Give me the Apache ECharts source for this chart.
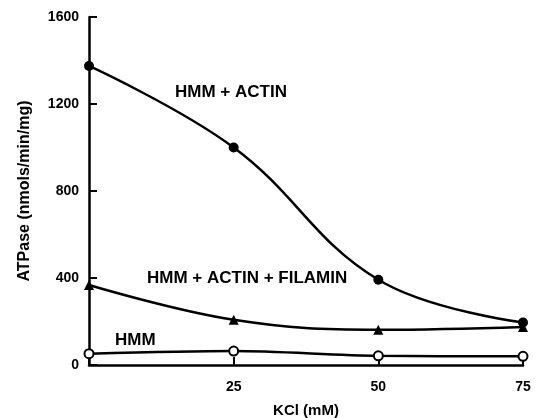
<!DOCTYPE html>
<html><head><meta charset="utf-8">
<script src="https://cdn.jsdelivr.net/npm/echarts@6/dist/echarts.min.js"></script>
<style>html,body{margin:0;padding:0;background:#fff}#c{width:542px;height:418px}</style>
</head><body><div id="c"></div>
<script>
const kcl = [0, 25, 50, 75];
const hmmActin = [1375, 1000, 392, 195];
const hmmActinFilamin = [368, 208, 162, 175];
const hmm = [52, 64, 42, 40];
const yTicks = [0, 400, 800, 1200, 1600];
const xTicks = [25, 50, 75];
const seriesNames = ['HMM + ACTIN', 'HMM + ACTIN + FILAMIN', 'HMM'];

const font = '"Liberation Sans", Arial, sans-serif';
const chart = echarts.init(document.getElementById('c'));
const pair = arr => kcl.map((x, i) => [x, arr[i]]);
const lineStyle = {color: '#000', width: 2.5};
chart.setOption({
  animation: false,
  grid: {left: 89, right: 19, top: 17, bottom: 53, containLabel: false, outerBoundsMode: 'none'},
  xAxis: {
    type: 'value', min: 0, max: 75, interval: 25,
    name: 'KCl (mM)', nameLocation: 'middle', nameGap: 38,
    nameTextStyle: {fontFamily: font, fontWeight: 'bold', fontSize: 15, color: '#000'},
    axisLine: {lineStyle: {color: '#000', width: 2.5}},
    axisTick: {inside: true, length: 8, lineStyle: {color: '#000', width: 2}},
    axisLabel: {fontFamily: font, fontWeight: 'bold', fontSize: 14, color: '#000', margin: 15,
      formatter: v => xTicks.includes(v) ? String(v) : ''},
    splitLine: {show: false}
  },
  yAxis: {
    type: 'value', min: 0, max: 1600, interval: 400,
    name: 'ATPase (nmols/min/mg)', nameLocation: 'middle', nameGap: 56,
    nameTextStyle: {fontFamily: font, fontWeight: 'bold', fontSize: 16, color: '#000'},
    axisLine: {show: true, lineStyle: {color: '#000', width: 2.5}},
    axisTick: {show: true, inside: true, length: 8, lineStyle: {color: '#000', width: 2}},
    axisLabel: {fontFamily: font, fontWeight: 'bold', fontSize: 14, color: '#000', margin: 10,
      formatter: v => yTicks.includes(v) ? String(v) : ''},
    splitLine: {show: false}
  },
  series: [
    {name: seriesNames[0], type: 'line', smooth: 0.4, data: pair(hmmActin),
     symbol: 'circle', symbolSize: 10, lineStyle,
     itemStyle: {color: '#000'}},
    {name: seriesNames[1], type: 'line', smooth: 0.4, data: pair(hmmActinFilamin),
     symbol: 'triangle', symbolSize: 10, lineStyle,
     itemStyle: {color: '#000'}},
    {name: seriesNames[2], type: 'line', smooth: 0.3, data: pair(hmm),
     symbol: 'circle', symbolSize: 9, lineStyle,
     itemStyle: {color: '#fff', borderColor: '#000', borderWidth: 2}}
  ],
  graphic: [
    {type: 'text', left: 175, top: 84, style: {text: seriesNames[0], font: 'bold 17px ' + font, fill: '#000'}},
    {type: 'text', left: 147, top: 270, style: {text: seriesNames[1], font: 'bold 17px ' + font, fill: '#000'}},
    {type: 'text', left: 115, top: 332, style: {text: seriesNames[2], font: 'bold 17px ' + font, fill: '#000'}}
  ]
});
</script></body></html>
